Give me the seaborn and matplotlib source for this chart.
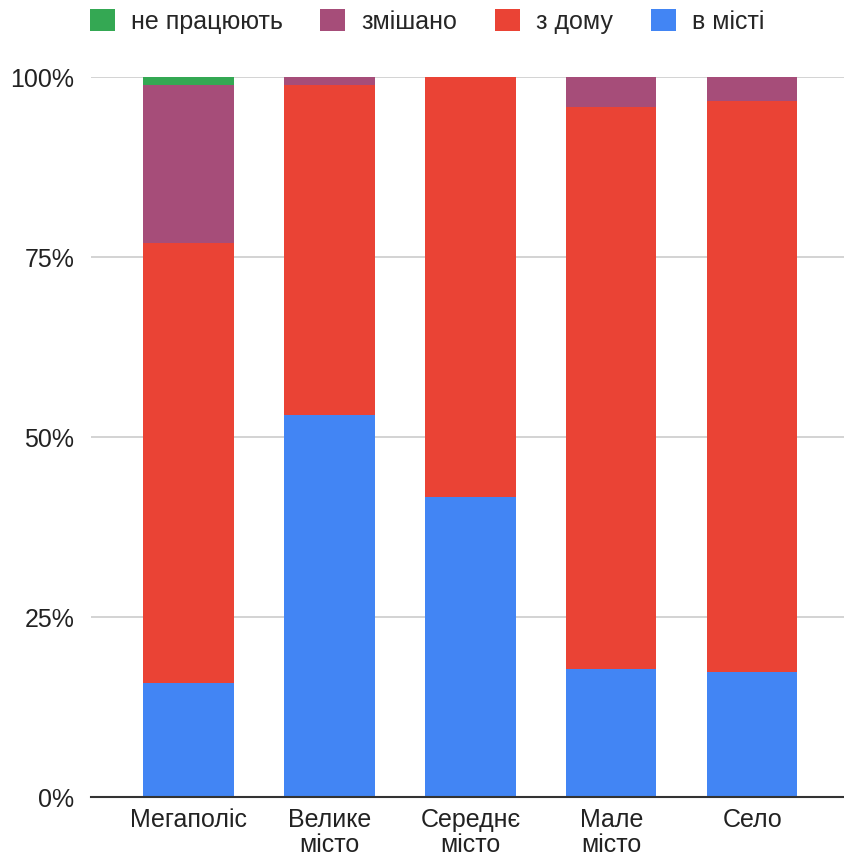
import numpy as np
import matplotlib
matplotlib.use('Agg')
import matplotlib.pyplot as plt
import seaborn as sns
from matplotlib.patches import Patch

# Categories and shares (%)
categories = ['Мегаполіс', 'Велике\nмісто', 'Середнє\nмісто', 'Мале\nмісто', 'Село']
in_city = [15.8, 53.1, 41.7, 17.8, 17.3]
from_home = [61.1, 45.8, 58.3, 78.0, 79.4]
mixed = [22.0, 1.1, 0.0, 4.2, 3.3]
not_working = [1.1, 0.0, 0.0, 0.0, 0.0]

series_names = ['в місті', 'з дому', 'змішано', 'не працюють']
series_values = [in_city, from_home, mixed, not_working]
colors = ['#4285F4', '#EA4335', '#A64D79', '#34A853']

sns.set_style('white')
plt.rcParams['font.family'] = ['Liberation Sans', 'DejaVu Sans']

fig = plt.figure(figsize=(8.44, 8.57), dpi=100)
ax = fig.add_axes([0.108, 0.070, 0.892, 0.840])

# Stack the series: draw cumulative totals from the top layer down
cum = np.cumsum(np.array(series_values), axis=0)
for i in range(len(series_names) - 1, -1, -1):
    sns.barplot(x=list(range(len(categories))), y=cum[i], color=colors[i],
                width=0.64, saturation=1, ax=ax, zorder=2, linewidth=0)

ax.set_xlim(-0.69, 4.65)
ax.set_ylim(0, 100)
ax.set_yticks([0, 25, 50, 75, 100])
ax.set_yticklabels(['0%', '25%', '50%', '75%', '100%'])
ax.set_xticks(range(len(categories)))
ax.set_xticklabels(categories, linespacing=1.02)
ax.tick_params(axis='both', length=0, labelsize=18, colors='#222222')
ax.tick_params(axis='x', pad=8)
ax.tick_params(axis='y', pad=12)
ax.set_xlabel('')
ax.set_ylabel('')

ax.yaxis.grid(True, color='#cccccc', linewidth=1.2, zorder=0)
ax.set_axisbelow(True)
for s in ['top', 'right', 'left']:
    ax.spines[s].set_visible(False)
ax.spines['bottom'].set_color('#333333')
ax.spines['bottom'].set_linewidth(1.5)
ax.spines['bottom'].set_zorder(3)

handles = [Patch(facecolor=colors[i], edgecolor='none', label=series_names[i])
           for i in [3, 2, 1, 0]]
fig.legend(handles=handles, loc='center', bbox_to_anchor=(0.506, 0.975),
           ncol=4, frameon=False, fontsize=18, handlelength=1.0, handleheight=1.0,
           columnspacing=1.5, handletextpad=0.65, borderaxespad=0.0)

plt.savefig('out.png', dpi=100)
